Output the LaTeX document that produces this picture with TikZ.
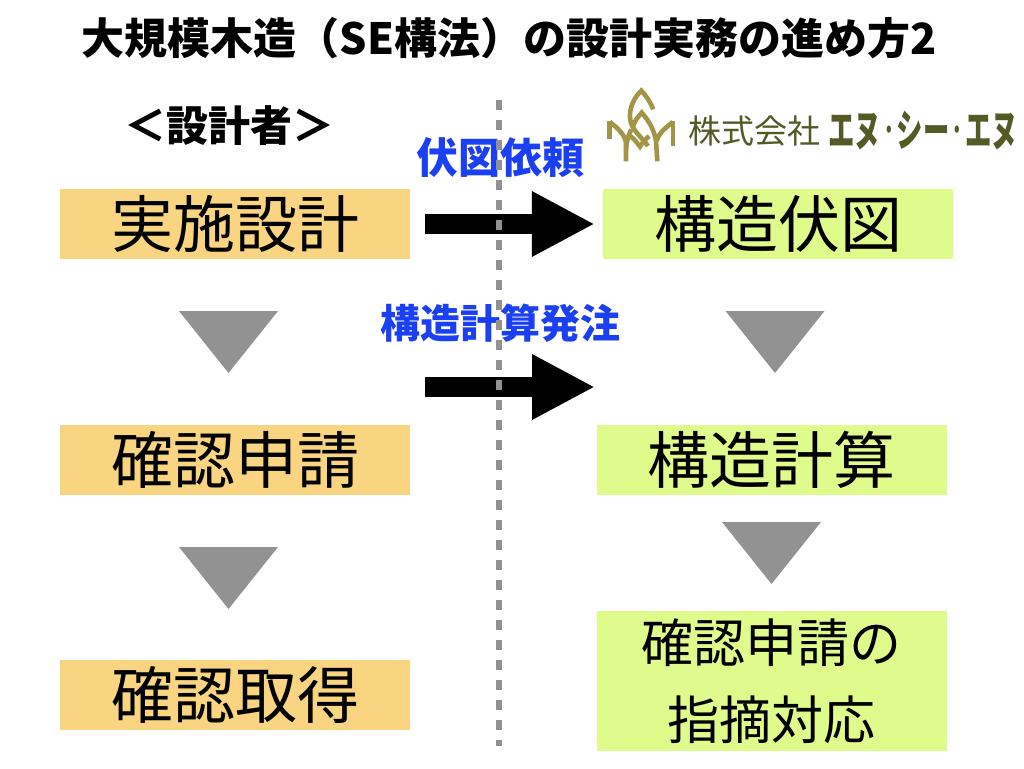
\documentclass[tikz,border=0pt]{standalone}
\usepackage{fontspec}
\setmainfont{Noto Sans CJK JP}
\usetikzlibrary{arrows.meta,positioning}
\definecolor{planorange}{HTML}{FAD581}
\definecolor{structgreen}{HTML}{DFFB8B}
\definecolor{flowgray}{HTML}{929292}
\definecolor{orderblue}{HTML}{1B3FF2}
\definecolor{logogold}{HTML}{A39545}
\definecolor{logoolive}{HTML}{545A26}
\newcommand{\fsize}[1]{\fontsize{#1}{#1}\selectfont}
\newcommand{\logodot}{\raisebox{7.5pt}{\fsize{26}・}}
\tikzset{
  planbox/.style={fill=planorange,minimum width=350pt,minimum height=70pt,inner sep=0pt,font=\fsize{62}},
  structbox/.style={planbox,fill=structgreen},
  orderlabel/.style={inner sep=0pt,text=orderblue,font=\fsize{42}\bfseries},
  orderarrow/.style={line width=20pt,-{Triangle[length=63pt,width=61pt]}},
  logomark/.style={draw=logogold,line width=4.6pt}
}

\begin{document}
\begin{tikzpicture}[x=1pt,y=-1pt]
\useasboundingbox (0,0) rectangle (1024,768);
\node[inner sep=0pt,font=\fsize{43}\bfseries] (title) at (509,38) {大規模木造（SE構法）の設計実務の進め方2};
\node[inner sep=0pt,font=\fsize{42}\bfseries] (designer) at (229,126) {＜設計者＞};
% left column
\node[planbox] (jisshi) at (235,224) {実施設計};
\node[planbox] (shinsei) at (235,460) {確認申請};
\node[planbox] (shutoku) at (235,695) {確認取得};
% right column
\node[structbox] (fuzu) at (778,224) {構造伏図};
\node[structbox] (keisan) at (771.5,460) {構造計算};
\node[structbox,minimum height=140pt,align=center,font=\fontsize{52}{77}\selectfont] (shiteki) at (771.5,681)
  {確認申請の\\指摘対応};
% flow triangles
\foreach \px/\py in {179/311,725.5/311,179/547,722/522}
  \fill[flowgray] (\px,\py) -- ++(99,0) -- ++(-49.5,62) -- cycle;
% orders
\node[orderlabel] (irai) at (500.5,158) {伏図依頼};
\node[orderlabel,font=\fsize{40}\bfseries] (hatchu) at (500,323) {構造計算発注};
\coordinate (hatchustart) at (425,387);
\coordinate (hatchuend) at (595,387);
\draw[orderarrow] ([xshift=15pt]jisshi.east) -- ([xshift=-8pt]fuzu.west);
\draw[orderarrow] (hatchustart) -- (hatchuend);
\draw[flowgray,line width=5.5pt,dash pattern=on 10pt off 10pt] (499,100) -- (499,746);
% logo
\begin{scope}[shift={(604,86)},x=.3333pt,y=-.3333pt]
\draw[logomark] (148,70) .. controls (135,40) and (122,25) .. (112,14) .. controls (90,35) and (76,65) .. (78,95)
  .. controls (80,130) and (110,150) .. (132,180);
\draw[logomark] (85,125) .. controls (92,105) and (102,92) .. (113,80) .. controls (135,105) and (150,130) .. (156,165) -- (160,226);
\draw[logomark] (135,150) .. controls (125,160) and (115,170) .. (108,182) .. controls (95,165) and (85,150) .. (72,150);
\draw[logomark] (17,105) -- (17,158);
\draw[logomark] (17,108) .. controls (40,125) and (62,145) .. (66,170) -- (66,226);
\draw[logomark] (66,190) .. controls (68,165) and (72,150) .. (82,130);
\draw[logomark] (207,105) -- (207,180);
\draw[logomark] (207,108) .. controls (185,125) and (165,140) .. (158,165);
\end{scope}
\node[inner sep=0pt,text=logoolive,font=\fsize{33}] (company) at (754,131) {株式会社};
\node[inner sep=0pt,text=logoolive,xscale=.6,font=\fsize{44}\bfseries] (sns) at (923,131)
  {エヌ\logodot シー\logodot エヌ};
\end{tikzpicture}
\end{document}
